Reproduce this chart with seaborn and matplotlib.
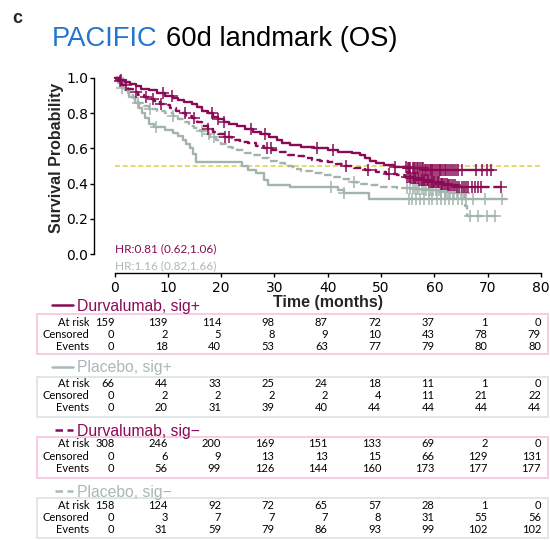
import numpy as np
import pandas as pd
import matplotlib
matplotlib.use("Agg")
import matplotlib.pyplot as plt
import matplotlib.transforms as mtransforms
from matplotlib.patches import Rectangle
from matplotlib.lines import Line2D
import seaborn as sns

# ---------------- data ----------------
time_ticks = [0, 10, 20, 30, 40, 50, 60, 70, 80]
surv_ticks = [0.0, 0.2, 0.4, 0.6, 0.8, 1.0]

# Durvalumab, sig+ (solid maroon)
dp_t = [0, 1, 2, 3, 4, 5, 6.5, 8, 9.5, 11, 12, 13, 14.5, 15.5, 16.5, 17.5, 18.5,
        19.5, 20.5, 21.5, 23, 24.5, 26, 27.5, 29, 30.5, 31.5, 33, 35, 37.5, 40,
        42, 44.5, 46, 47, 48, 49, 50.5, 52.5, 55, 58, 71.0]
dp_s = [1.0, 0.99, 0.975, 0.965, 0.955, 0.94, 0.93, 0.915, 0.90, 0.885, 0.875,
        0.865, 0.855, 0.835, 0.815, 0.80, 0.78, 0.765, 0.75, 0.74, 0.725, 0.71,
        0.695, 0.68, 0.665, 0.645, 0.63, 0.62, 0.61, 0.60, 0.59, 0.582, 0.574,
        0.56, 0.545, 0.53, 0.515, 0.505, 0.495, 0.487, 0.477, 0.477]
dp_cens = [1.2, 9.1, 10.7, 18.2, 19.5, 20.6, 25.6, 28.3, 37.9, 41.0, 52.6, 54.7,
           55.0, 55.3, 55.5, 55.9, 56.2, 56.4, 56.8, 57.0, 57.3, 57.7, 57.9, 58.2,
           58.4, 58.8, 59.1, 59.3, 59.6, 59.8, 60.1, 60.4, 60.8, 61.0, 61.3, 61.7,
           62.0, 62.2, 62.6, 62.9, 63.3, 63.6, 64.1, 64.5, 65.2, 67.9, 68.9, 69.8,
           70.6]

# Durvalumab, sig- (dashed maroon)
dm_t = [0, 0.7, 1.5, 2.5, 3.5, 4.5, 5.5, 6.5, 7.5, 8.5, 9.5, 10.5, 11.5, 12.5,
        13.5, 14.5, 15.5, 16.5, 17.5, 18.5, 19.5, 20.5, 22, 23.5, 25, 26.5, 28,
        29.5, 31, 32.5, 34, 35.5, 37, 38.5, 40, 41.5, 43, 45, 47, 49, 51, 53,
        54.5, 55.5, 57, 59, 61, 62.5, 64, 73.0]
dm_s = [1.0, 0.985, 0.96, 0.94, 0.92, 0.905, 0.89, 0.88, 0.87, 0.855, 0.845,
        0.83, 0.815, 0.80, 0.785, 0.77, 0.75, 0.73, 0.71, 0.695, 0.68, 0.665,
        0.65, 0.637, 0.628, 0.615, 0.60, 0.59, 0.578, 0.565, 0.555, 0.545, 0.535,
        0.528, 0.52, 0.51, 0.50, 0.49, 0.477, 0.467, 0.457, 0.447, 0.44, 0.43,
        0.42, 0.41, 0.40, 0.39, 0.383, 0.383]
dm_cens = [1.0, 2.2, 4.1, 5.9, 7.3, 8.8, 13.2, 15.0, 17.6, 20.8, 21.4, 28.6, 29.3,
           43.5, 47.6, 51.4, 54.9, 55.2, 55.4, 55.7, 55.9, 56.1, 56.4, 56.6, 56.9,
           57.1, 57.4, 57.6, 57.8, 58.1, 58.3, 58.6, 58.8, 59.0, 59.3, 59.5, 59.7,
           59.9, 60.2, 60.4, 60.7, 60.9, 61.2, 61.4, 61.7, 62.0, 62.3, 62.5, 62.8,
           63.1, 63.4, 63.8, 64.2, 64.6, 65.1, 65.5, 66.0, 66.4, 67.0, 67.6, 68.2,
           68.8, 72.5]

# Placebo, sig+ (solid grey)
pp_t = [0, 0.8, 1.5, 2.0, 2.8, 3.8, 4.6, 5.2, 5.8, 6.5, 7.5, 9.5, 11, 12, 12.8,
        13.5, 14.2, 14.8, 15.3, 24, 25, 26.5, 28, 28.8, 33, 42, 43, 47.8, 73.5]
pp_s = [1.0, 0.985, 0.97, 0.93, 0.89, 0.86, 0.83, 0.80, 0.77, 0.74, 0.72, 0.705,
        0.69, 0.67, 0.65, 0.625, 0.60, 0.57, 0.525, 0.50, 0.477, 0.458, 0.42,
        0.392, 0.383, 0.364, 0.345, 0.313, 0.313]
pp_cens = [1.6, 7.8, 40.7, 43.0, 55.2, 55.8, 56.5, 57.3, 58.0, 58.9, 59.6, 60.4,
           61.2, 62.0, 62.7, 63.5, 64.4, 65.1, 66.0, 67.3, 69.5, 72.7]

# Placebo, sig- (dashed grey)
pm_t = [0, 0.7, 1.5, 2.5, 3.5, 4.5, 5.5, 6.5, 8, 9.5, 11, 12, 13, 14, 15, 16,
        17, 18, 19, 20, 21, 22, 23, 24.5, 26, 27.5, 29, 30.5, 32, 33.5, 35, 37,
        39, 41, 42.5, 44, 45.5, 47.5, 50, 53, 56, 58.5, 61, 63.5, 65.8, 66.2, 72.0]
pm_s = [1.0, 0.98, 0.945, 0.915, 0.885, 0.86, 0.84, 0.825, 0.81, 0.80, 0.785,
        0.765, 0.75, 0.73, 0.715, 0.70, 0.68, 0.665, 0.645, 0.625, 0.61, 0.60,
        0.59, 0.575, 0.56, 0.545, 0.53, 0.515, 0.50, 0.485, 0.47, 0.46, 0.448,
        0.438, 0.425, 0.41, 0.398, 0.39, 0.382, 0.375, 0.37, 0.363, 0.355, 0.347,
        0.27, 0.216, 0.216]
pm_cens = [1.5, 4.5, 6.7, 11.0, 16.5, 17.8, 18.6, 44.9, 54.9, 55.4, 55.9, 56.3,
           56.7, 57.2, 57.6, 58.0, 58.5, 58.9, 59.4, 59.8, 60.3, 60.8, 61.3, 61.9,
           62.4, 63.0, 63.6, 64.3, 65.0, 65.6, 66.7, 68.2, 69.9, 71.4]

hr_texts = ["HR:0.81 (0.62,1.06)", "HR:1.16 (0.82,1.66)"]

row_labels = ["At risk", "Censored", "Events"]
dp_table = [[159, 139, 114, 98, 87, 72, 37, 1, 0],
            [0, 2, 5, 8, 9, 10, 43, 78, 79],
            [0, 18, 40, 53, 63, 77, 79, 80, 80]]
pp_table = [[66, 44, 33, 25, 24, 18, 11, 1, 0],
            [0, 2, 2, 2, 2, 4, 11, 21, 22],
            [0, 20, 31, 39, 40, 44, 44, 44, 44]]
dm_table = [[308, 246, 200, 169, 151, 133, 69, 2, 0],
            [0, 6, 9, 13, 13, 15, 66, 129, 131],
            [0, 56, 99, 126, 144, 160, 173, 177, 177]]
pm_table = [[158, 124, 92, 72, 65, 57, 28, 1, 0],
            [0, 3, 7, 7, 7, 8, 31, 55, 56],
            [0, 31, 59, 79, 86, 93, 99, 102, 102]]

# ---------------- style ----------------
sns.set_theme(style="ticks")
plt.rcParams['font.family'] = ['DejaVu Sans']

MAROON = "#8A0A55"
GREY = "#A3B4AF"
GREY_TXT = "#A9B9B5"
PINK = "#F6C4E2"
GREY_BOX = "#DCE3E1"
YELLOW = "#E2DA6C"
BLUE = "#2277CC"
W, H = 550.0, 540.0

def fx(px):
    return px / W

def fy(py):
    return 1 - py / H

fig = plt.figure(figsize=(5.5, 5.4), dpi=100)
fig.patch.set_facecolor("white")
ax = fig.add_axes([fx(114.5), fy(254), 426.5 / W, 176 / H])
ax.set_facecolor("white")

def step_value(t, s, c):
    idx = np.searchsorted(np.asarray(t), np.asarray(c), side="right") - 1
    return np.asarray(s)[idx]

groups = [
    (pp_t, pp_s, pp_cens, GREY, "-"),
    (pm_t, pm_s, pm_cens, GREY, (0, (3.2, 1.6))),
    (dm_t, dm_s, dm_cens, MAROON, (0, (3.2, 1.6))),
    (dp_t, dp_s, dp_cens, MAROON, "-"),
]
for t, s, c, col, ls in groups:
    df = pd.DataFrame({"t": t, "s": s})
    sns.lineplot(data=df, x="t", y="s", ax=ax, color=col, linewidth=1.7,
                 linestyle=ls, drawstyle="steps-post", estimator=None,
                 sort=False, legend=False, clip_on=False)
    ax.plot(c, step_value(t, s, c), linestyle="none", marker="+",
            markersize=9, markeredgewidth=1.1, color=col, clip_on=False)

ax.axhline(0.5, color=YELLOW, linewidth=1.4, linestyle=(0, (2.5, 1.5)), zorder=1)

ax.set_xlim(0, 80)
ax.set_ylim(0, 1)
ax.set_xticks(time_ticks)
ax.set_yticks(surv_ticks)
ax.set_yticklabels([f"{v:.1f}" for v in surv_ticks])
ax.set_xlabel("")
ax.set_ylabel("")
for side in ["top", "right"]:
    ax.spines[side].set_visible(False)
ax.spines["left"].set_position(("outward", 15))
ax.spines["bottom"].set_position(("outward", 14))
ax.spines["left"].set_bounds(0, 1)
ax.spines["bottom"].set_bounds(0, 80)
for side in ["left", "bottom"]:
    ax.spines[side].set_color("black")
    ax.spines[side].set_linewidth(1.0)
ax.tick_params(axis="both", length=3, width=1, color="black",
               labelsize=10, labelcolor="black")
ax.tick_params(axis="y", pad=1)
ax.tick_params(axis="x", pad=2.5)

# titles and labels
fig.text(fx(12), fy(23), "c", fontsize=13, fontweight="bold",
         family="Liberation Sans", va="baseline")
fig.text(fx(52), fy(46.5), "PACIFIC", fontsize=19.7, color=BLUE,
         family="Liberation Sans", va="baseline")
fig.text(fx(166.5), fy(46.5), "60d landmark (OS)", fontsize=19.7,
         color="black", family="Liberation Sans", va="baseline")
fig.text(fx(57), fy(157.5), "Survival Probability", rotation=90,
         fontsize=11.5, fontweight="bold", family="Liberation Sans",
         ha="center", va="center")
fig.text(fx(328), fy(302), "Time (months)", fontsize=11.5,
         fontweight="bold", family="Liberation Sans", ha="center", va="center")

fig.text(fx(115), fy(249), hr_texts[0], color=MAROON, fontsize=8.5,
         family="Lato", va="center")
fig.text(fx(115), fy(266), hr_texts[1], color=GREY_TXT, fontsize=8.5,
         family="Lato", va="center")

# risk tables
trans = mtransforms.blended_transform_factory(ax.transData, fig.transFigure)
blocks = [
    ("Durvalumab, sig+", MAROON, "-", PINK, dp_table, 305, 310.5,
     314, 354.3, [326, 338.3, 350]),
    ("Placebo, sig+", GREY_TXT, "-", GREY_BOX, pp_table, 367, 372.3,
     377.3, 416.5, [386.7, 399, 411]),
    ("Durvalumab, sig\u2212", MAROON, "--", PINK, dm_table, 430, 435.7,
     436.7, 477.7, [447.3, 459.7, 472]),
    ("Placebo, sig\u2212", GREY_TXT, "--", GREY_BOX, pm_table, 491, 496.7,
     498.3, 538, [509, 521, 533.3]),
]
for name, col, ls, boxcol, table, line_y, base_y, top, bot, rows in blocks:
    fig.add_artist(Rectangle((fx(37), fy(bot)), (548 - 37) / W, (bot - top) / H,
                             transform=fig.transFigure, fill=False,
                             edgecolor=boxcol, linewidth=1.2))
    if ls == "-":
        fig.add_artist(Line2D([fx(52), fx(73)], [fy(line_y), fy(line_y)],
                              transform=fig.transFigure, color=col, lw=1.8))
    else:
        fig.add_artist(Line2D([fx(55), fx(73)], [fy(line_y), fy(line_y)],
                              transform=fig.transFigure, color=col, lw=1.8,
                              dashes=(3.0, 1.8)))
    fig.text(fx(77), fy(base_y), name, color=col, fontsize=11.3,
             family="Liberation Sans", va="baseline")
    for r, (lab, vals) in enumerate(zip(row_labels, table)):
        fig.text(fx(89), fy(rows[r]), lab, fontsize=8, family="Lato",
                 ha="right", va="baseline", color="black")
        for tx, v in zip(time_ticks, vals):
            fig.text(tx, fy(rows[r]), str(v), transform=trans, fontsize=8,
                     family="Lato", ha="right", va="baseline", color="black")

fig.savefig("out.png", dpi=100, facecolor="white")
